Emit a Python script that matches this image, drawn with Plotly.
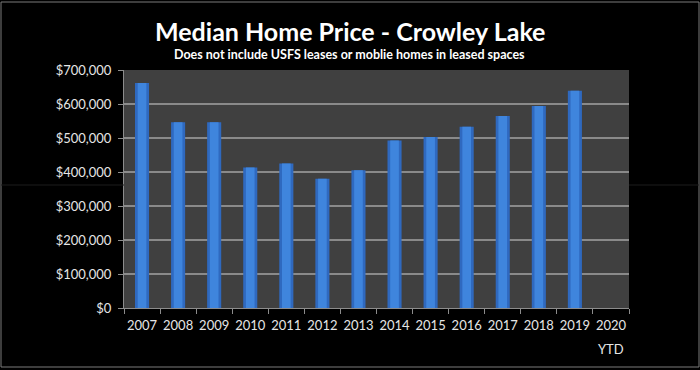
import plotly.graph_objects as go

years = ["2007", "2008", "2009", "2010", "2011", "2012", "2013", "2014",
         "2015", "2016", "2017", "2018", "2019", "2020"]
prices = [662000, 546000, 546000, 413000, 425000, 380000, 405000, 493000,
          503000, 533000, 565000, 594000, 639000, None]
y_ticks = [0, 100000, 200000, 300000, 400000, 500000, 600000, 700000]
y_tick_labels = ["$0", "$100,000", "$200,000", "$300,000", "$400,000",
                 "$500,000", "$600,000", "$700,000"]

L, R, T, B = 124, 71, 70, 62
W, H = 700, 370
pw, ph = W - L - R, H - T - B

def px(x):
    return (x - L) / pw

def py(y):
    return (H - B - y) / ph

FONT = "Lato, Open Sans, sans-serif"

fig = go.Figure()
fig.add_trace(go.Bar(
    x=years, y=prices, width=0.39,
    marker=dict(color="#2F69BF", line=dict(width=0)),
))
fig.add_trace(go.Bar(
    x=years, y=prices, width=0.24,
    marker=dict(color="#3F85DD", line=dict(width=0)),
))

fig.update_layout(
    width=W, height=H,
    barmode="overlay",
    margin=dict(l=L, r=R, t=T, b=B, autoexpand=False),
    paper_bgcolor="#000000",
    plot_bgcolor="#404040",
    showlegend=False,
    font=dict(family=FONT, color="#e6e6e6"),
    xaxis=dict(
        type="category", showgrid=False, automargin=False, tickangle=0,
        showline=True, linecolor="#8c8c8c", linewidth=1,
        ticks="outside", ticklen=5, tickcolor="#8c8c8c",
        tickfont=dict(size=13, color="#e6e6e6"),
        tickson="boundaries", ticklabelstandoff=5,
    ),
    yaxis=dict(
        range=[0, 700000], tickvals=y_ticks, ticktext=y_tick_labels,
        automargin=False,
        showgrid=True, gridcolor="#8a8a8a", gridwidth=1.5,
        showline=True, linecolor="#8c8c8c", linewidth=1,
        ticks="outside", ticklen=5, tickcolor="#8c8c8c",
        tickfont=dict(size=13, color="#e6e6e6"),
        ticklabelstandoff=4,
        zeroline=False,
    ),
    annotations=[
        dict(text="<b>Median Home Price - Crowley Lake</b>", xref="paper", yref="paper",
             x=px(350), y=py(31), yanchor="middle", showarrow=False,
             font=dict(size=25, color="#ffffff", family=FONT)),
        dict(text="<b>Does not include USFS leases or moblie homes in leased spaces</b>",
             xref="paper", yref="paper", x=px(349), y=py(54), yanchor="middle",
             showarrow=False,
             font=dict(size=12.5, color="#ffffff", family=FONT)),
        dict(text="YTD", xref="x", yref="paper", x=13, y=py(349), yanchor="middle",
             showarrow=False, font=dict(size=13, color="#e6e6e6", family=FONT)),
    ],
    shapes=[
        dict(type="rect", xref="paper", yref="paper",
             x0=px(1), x1=px(699), y0=py(367), y1=py(2),
             line=dict(color="#7a7a7a", width=1), layer="below"),
        dict(type="line", xref="paper", yref="paper",
             x0=px(1), x1=px(124), y0=py(185), y1=py(185),
             line=dict(color="#1c1c1c", width=1)),
        dict(type="line", xref="paper", yref="paper",
             x0=px(629), x1=px(699), y0=py(185), y1=py(185),
             line=dict(color="#1c1c1c", width=1)),
    ],
)

fig.write_html(
    "out.html",
    config={"displayModeBar": False},
    post_script="document.body.style.margin='0';document.body.style.background='#000';",
)
